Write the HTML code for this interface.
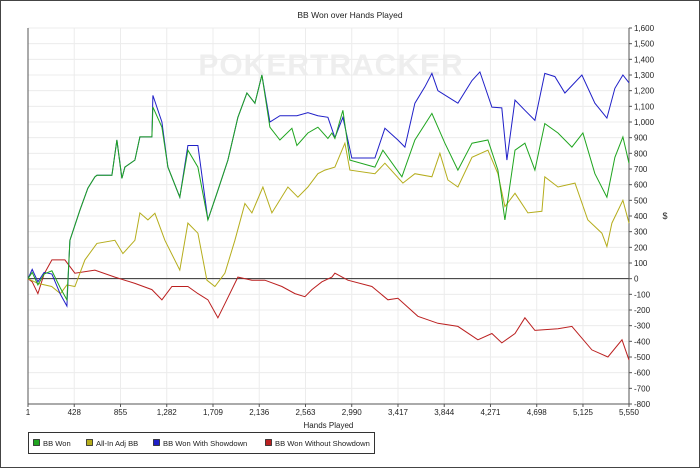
<!DOCTYPE html>
<html><head><meta charset="utf-8"><style>
body{margin:0;background:#fff;font-family:"Liberation Sans",sans-serif}
#wrap{position:relative;width:698px;height:466px;border:1px solid #444;background:#fff}
</style></head><body>
<div id="wrap">
<svg id="chart" width="698" height="466" xmlns="http://www.w3.org/2000/svg"></svg>
</div>
<script>
const xTicks=[1,428,855,1282,1709,2136,2563,2990,3417,3844,4271,4698,5125,5550];
const yTicks=[-800,-700,-600,-500,-400,-300,-200,-100,0,100,200,300,400,500,600,700,800,900,1000,1100,1200,1300,1400,1500,1600];
const greenH=[1,40,92,150,222,300,360,388,480,554,619,637,776,822,868,896,988,1034,1145,1154,1237,1293,1403,1477,1570,1662,1745,1847,1939,2022,2096,2161,2234,2327,2438,2484,2585,2678,2770,2807,2835,2908,2973,3204,3278,3453,3573,3730,3850,3970,4100,4247,4340,4404,4497,4589,4681,4773,4894,5023,5124,5235,5346,5420,5494,5550];
const greenV=[0,40,-40,30,50,-60,-135,245,437,578,650,660,660,885,640,712,757,905,905,1095,967,712,520,820,712,375,545,757,1030,1185,1120,1300,967,885,960,850,930,967,895,930,895,1075,757,712,820,650,885,1055,865,693,865,885,693,375,820,865,693,990,930,840,930,670,520,775,905,737];
const blueH=[1,40,92,150,222,300,360,388,480,554,619,637,776,822,868,896,988,1034,1145,1154,1237,1293,1403,1477,1570,1662,1745,1847,1939,2022,2096,2161,2234,2327,2438,2484,2585,2678,2770,2835,2908,2991,3204,3296,3416,3481,3573,3666,3730,3786,3878,3970,4100,4173,4284,4376,4423,4497,4589,4681,4773,4866,4958,5115,5235,5346,5420,5494,5550];
const blueV=[0,60,-20,40,30,-100,-175,245,437,578,650,660,660,885,640,712,757,905,905,1170,1000,712,520,850,850,375,545,757,1030,1185,1120,1300,1000,1040,1040,1040,1060,1040,1030,900,1030,770,770,960,885,840,1120,1225,1310,1200,1160,1120,1265,1320,1095,1090,757,1140,1075,1010,1310,1290,1185,1300,1120,1025,1215,1300,1250];
const yellowH=[1,92,220,300,360,434,526,637,803,877,988,1034,1108,1173,1265,1403,1477,1570,1653,1727,1819,1911,2004,2068,2170,2253,2401,2493,2585,2678,2742,2835,2927,2973,3204,3296,3462,3573,3730,3804,3878,3970,4100,4247,4340,4404,4497,4617,4746,4773,4894,5051,5170,5300,5346,5392,5494,5550];
const yellowV=[0,-30,-50,-95,-40,-50,120,225,245,160,245,420,375,417,245,55,355,290,-10,-50,35,245,480,420,585,420,585,520,585,670,693,712,865,693,670,737,610,670,650,800,630,585,775,820,670,460,545,420,430,650,585,610,375,290,205,355,500,355];
const redH=[1,40,92,150,222,342,434,619,803,988,1145,1237,1330,1477,1570,1662,1754,1819,1939,2068,2188,2345,2465,2558,2622,2715,2807,2835,2955,3176,3324,3416,3601,3786,3970,4155,4284,4376,4497,4589,4681,4894,5023,5207,5355,5485,5550];
const redV=[0,-20,-95,30,120,120,35,55,10,-30,-70,-135,-50,-50,-95,-135,-250,-160,10,-10,-10,-50,-95,-115,-70,-20,10,35,-10,-50,-135,-125,-240,-285,-305,-390,-350,-410,-350,-250,-330,-320,-305,-455,-500,-390,-520];

const NS="http://www.w3.org/2000/svg";
const svg=document.getElementById('chart');
const L=27,R=628,T=27,B=403;
const xs=h=>L+(h-1)/(5549)*(R-L);
const ys=v=>T+(1600-v)/2400*(B-T);
function mk(tag,attrs,parent){const e=document.createElementNS(NS,tag);for(const k in attrs)e.setAttribute(k,attrs[k]);(parent||svg).appendChild(e);return e;}

let t=mk('text',{x:349,y:17,'font-size':8.5,'text-anchor':'middle',fill:'#222'});t.textContent='BB Won over Hands Played';



let wm=mk('text',{x:330,y:74,'font-size':30,'font-weight':'bold','text-anchor':'middle',fill:'#eeeeee','letter-spacing':'1'});wm.textContent='POKERTRACKER';



const grid=mk('g',{});


yTicks.forEach(v=>{mk('line',{x1:L,x2:R,y1:ys(v),y2:ys(v),stroke:'#ececec','stroke-width':1},grid);});
xTicks.forEach(h=>{mk('line',{x1:xs(h),x2:xs(h),y1:T,y2:B,stroke:'#ececec','stroke-width':1},grid);});

mk('line',{x1:L,x2:R,y1:ys(0),y2:ys(0),stroke:'#333','stroke-width':1});
mk('line',{x1:L,x2:L,y1:T,y2:B,stroke:'#555','stroke-width':1});
mk('line',{x1:L,x2:R,y1:B,y2:B,stroke:'#555','stroke-width':1});
mk('line',{x1:R,x2:R,y1:T,y2:B,stroke:'#555','stroke-width':1});

const yax=mk('g',{});


yTicks.forEach(v=>{
 mk('line',{x1:R,x2:R+3,y1:ys(v),y2:ys(v),stroke:'#555'},yax);
 const tx=mk('text',{x:R+5,y:ys(v)+3,'font-size':8,fill:'#222'},yax);
 tx.textContent=v.toLocaleString('en-US');
});
const xax=mk('g',{});


xTicks.forEach(h=>{
 mk('line',{x1:xs(h),x2:xs(h),y1:B,y2:B+3,stroke:'#555'},xax);
 const tx=mk('text',{x:xs(h),y:B+11,'font-size':8,'text-anchor':'middle',fill:'#222'},xax);
 tx.textContent=h.toLocaleString('en-US');
});
let xt=mk('text',{x:xs(2775),y:B+24,'font-size':8,'text-anchor':'middle',fill:'#222'});xt.textContent='Hands Played';


let yt=mk('text',{x:664,y:ys(400)+3,'font-size':9,fill:'#222','text-anchor':'middle'});yt.textContent='$';



function series(H,V,color,name){
 const d=H.map((h,i)=>(i?'L':'M')+xs(h).toFixed(1)+' '+ys(V[i]).toFixed(1)).join(' ');
 const p=mk('path',{d:d,fill:'none',stroke:color,'stroke-width':1});
 
 
}
series(redH,redV,'#bb2020','series-bb-won-without-showdown');
series(yellowH,yellowV,'#b5ad1c','series-all-in-adj-bb');
series(blueH,blueV,'#2020c8','series-bb-won-with-showdown');
series(greenH,greenV,'#1fa51f','series-bb-won');

const lg=mk('g',{});


mk('rect',{x:27.5,y:431.5,width:346,height:21,fill:'#fff',stroke:'#333'},lg);
const legItems=[['BB Won','#1fa51f',32],['All-In Adj BB','#b5ad1c',85],['BB Won With Showdown','#2020c8',152],['BB Won Without Showdown','#bb2020',264]];
legItems.forEach(([n,c,x])=>{
 const g=mk('g',{},lg);
 
 
 mk('rect',{x:x+0.5,y:438.5,width:6,height:6,fill:c,stroke:'#222','stroke-width':0.8},g);
 const tx=mk('text',{x:x+10,y:445,'font-size':7.6,fill:'#222'},g);tx.textContent=n;
});
</script>
</body></html>
